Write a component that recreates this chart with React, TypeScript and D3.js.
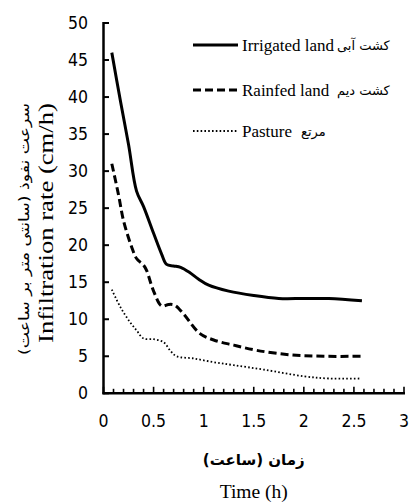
import * as d3 from "d3";

// values (time in hours, rate in cm/h)
const irrigatedT = [0.083, 0.17, 0.25, 0.33, 0.4, 0.5, 0.58, 0.63, 0.7, 0.77, 0.86, 0.95, 1.05, 1.25, 1.5, 1.75, 2.0, 2.25, 2.58];
const irrigatedY = [46.0, 39.4, 33.6, 27.3, 25.2, 21.6, 18.8, 17.4, 17.2, 17.0, 16.3, 15.4, 14.6, 13.8, 13.2, 12.8, 12.8, 12.8, 12.5];

const rainfedT = [0.083, 0.15, 0.2, 0.28, 0.33, 0.4, 0.43, 0.5, 0.58, 0.65, 0.71, 0.8, 0.96, 1.1, 1.3, 1.53, 1.86, 2.2, 2.58];
const rainfedY = [31.0, 26.8, 23.3, 19.8, 18.2, 17.3, 16.6, 13.8, 11.8, 12.0, 11.9, 10.7, 8.1, 7.2, 6.5, 5.8, 5.2, 5.0, 5.0];

const pastureT = [0.083, 0.17, 0.26, 0.33, 0.4, 0.5, 0.6, 0.67, 0.73, 0.9, 1.1, 1.3, 1.6, 2.0, 2.25, 2.56];
const pastureY = [14.0, 11.6, 9.7, 8.5, 7.4, 7.3, 6.9, 5.7, 5.0, 4.7, 4.2, 3.8, 3.2, 2.3, 2.0, 2.0];

const xTicks = [0, 0.5, 1, 1.5, 2, 2.5, 3];
const yTicks = [0, 5, 10, 15, 20, 25, 30, 35, 40, 45, 50];

const legendNames = ["Irrigated land", "Rainfed land", "Pasture"];
const legendFa = ["کشت آبی", "کشت دیم", "مرتع"];

const W = 409, H = 504;
const left = 103.5, right = 404, top = 23, bottom = 393.3;

const numFont = "'Liberation Sans Narrow', 'Arial Narrow', 'DejaVu Sans Condensed', sans-serif";
const serif = "'Liberation Serif', 'Times New Roman', serif";
const faFont = "'DejaVu Sans', sans-serif";

export default function App() {
  const x = d3.scaleLinear().domain([0, 3]).range([left, right]);
  const y = d3.scaleLinear().domain([0, 50]).range([bottom, top]);

  const line = d3.line<[number, number]>()
    .x(d => x(d[0]))
    .y(d => y(d[1]))
    .curve(d3.curveCatmullRom.alpha(0.5));

  const series = [
    { pts: irrigatedT.map((t, i) => [t, irrigatedY[i]] as [number, number]), width: 3, dash: "" },
    { pts: rainfedT.map((t, i) => [t, rainfedY[i]] as [number, number]), width: 3, dash: "8,4" },
    { pts: pastureT.map((t, i) => [t, pastureY[i]] as [number, number]), width: 1.8, dash: "1.6,2.2" },
  ];

  const minor = d3.range(0, 31).map(i => i / 10);
  const legendRows = [45, 90, 131];
  const faX = [337, 337, 301];

  return (
    <svg width={W} height={H} style={{ position: "absolute", left: 0, top: 0, background: "#fff" }}>
      {/* series */}
      {series.map((s, i) => (
        <path key={i} d={line(s.pts) || ""} fill="none" stroke="#000"
          strokeWidth={s.width} strokeDasharray={s.dash || undefined} />
      ))}

      {/* axes */}
      <line x1={left} x2={left} y1={top - 1} y2={bottom + 1} stroke="#000" strokeWidth={2.5} />
      <line x1={left - 1} x2={right + 1} y1={bottom} y2={bottom} stroke="#000" strokeWidth={2.5} />
      {yTicks.map(v => (
        <g key={"y" + v}>
          <line x1={left} x2={left + 5.5} y1={y(v)} y2={y(v)} stroke="#000" strokeWidth={2} />
          <text x={88} y={y(v) + 6} textAnchor="end" fontFamily={numFont} fontSize={17.5}>{v}</text>
        </g>
      ))}
      {minor.map(v => {
        const major = Math.abs(v * 2 - Math.round(v * 2)) < 1e-6;
        return <line key={"m" + v} x1={x(v)} x2={x(v)} y1={bottom} y2={bottom - (major ? 6.5 : 4.5)}
          stroke="#000" strokeWidth={1.6} />;
      })}
      {xTicks.map(v => (
        <text key={"x" + v} x={x(v)} y={427} textAnchor="middle" fontFamily={numFont} fontSize={17.5}>{v}</text>
      ))}

      {/* axis titles */}
      <text x={x(1.5)} y={465} textAnchor="middle" fontFamily={faFont} fontWeight="bold" fontSize={15} direction="rtl">زمان (ساعت)</text>
      <text x={x(1.5)} y={498} textAnchor="middle" fontFamily={serif} fontSize={19.5}>Time (h)</text>
      <text transform="translate(53,223) rotate(-90)" textAnchor="middle" fontFamily={serif} fontSize={20}
        textLength={240} lengthAdjust="spacingAndGlyphs">Infiltration rate (cm/h)</text>
      <text transform="translate(29,229) rotate(-90)" textAnchor="middle" fontFamily={faFont} fontSize={14}
        textLength={252} lengthAdjust="spacingAndGlyphs" direction="rtl">سرعت نفوذ (سانتی متر بر ساعت)</text>

      {/* legend */}
      {legendRows.map((ry, i) => (
        <g key={"l" + i}>
          <line x1={193} x2={238} y1={ry} y2={ry} stroke="#000" strokeWidth={series[i].width}
            strokeDasharray={series[i].dash || undefined} />
          <text x={242} y={ry + 6} fontFamily={serif} fontSize={17}>{legendNames[i]}</text>
          <text x={faX[i]} y={ry + 5} fontFamily={faFont} fontSize={13} textAnchor="start" direction="ltr">{legendFa[i]}</text>
        </g>
      ))}
    </svg>
  );
}
